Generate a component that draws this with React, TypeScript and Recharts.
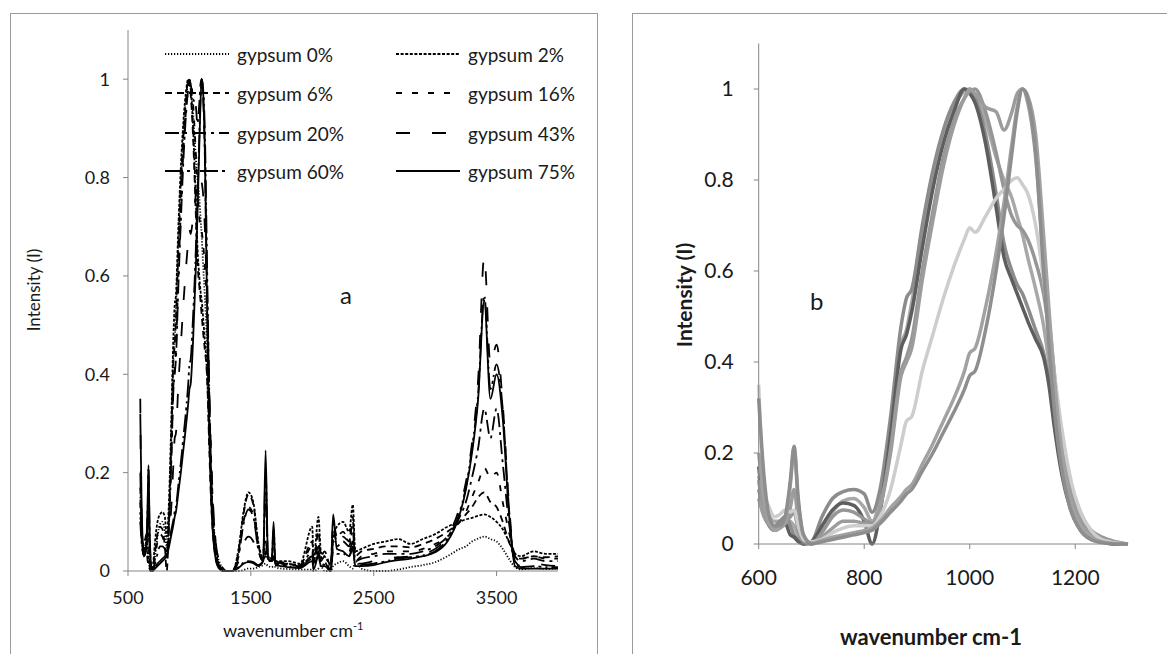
import { LineChart, Line, XAxis, YAxis, Legend } from 'recharts'

// wavenumber grid (cm-1), rows kept aligned with the series below
const wavenumbers = [
  600, 610, 620, 630, 640, 650, 660, 667, 675, 685, 700,
  720, 740, 760, 780, 800, 815, 830, 850, 870, 880, 890,
  910, 930, 950, 970, 990, 1000, 1010, 1030, 1050, 1065,
  1080, 1090, 1100, 1110, 1125, 1140, 1150, 1160, 1175, 1190,
  1210, 1230, 1250, 1275, 1300, 1350, 1400, 1440, 1480, 1520,
  1560, 1600, 1620, 1640, 1670, 1685, 1700, 1750, 1800, 1900,
  2000, 2010, 2050, 2070, 2100, 2150, 2170, 2200, 2250, 2300,
  2330, 2350, 2400, 2500, 2600, 2700, 2800, 2900, 3000, 3100,
  3200, 3250, 3300, 3350, 3400, 3450, 3500, 3550, 3600, 3650,
  3700, 3800, 3900, 4000,
]

const gypsum0 = [
  0.15, 0.09, 0.06, 0.05, 0.05, 0.055, 0.05, 0.04, 0.02, 0.005, 0.0,
  0.03, 0.07, 0.095, 0.1, 0.08, 0.05, 0.1, 0.25, 0.44, 0.47, 0.53,
  0.67, 0.79, 0.89, 0.96, 0.995, 1.0, 0.985, 0.93, 0.85, 0.8,
  0.76, 0.72, 0.68, 0.63, 0.56, 0.48, 0.4, 0.31, 0.2, 0.12,
  0.06, 0.03, 0.015, 0.005, 0.0, 0.0, 0.0, 0.002, 0.005, 0.005,
  0.008, 0.012, 0.015, 0.01, 0.008, 0.01, 0.008, 0.005, 0.004, 0.003,
  0.003, 0.0, 0.005, 0.01, 0.0, 0.0, 0.01, 0.015, 0.02, 0.01,
  0.005, 0.02, 0.005, 0.0, 0.0, 0.003, 0.008, 0.012, 0.018, 0.03,
  0.045, 0.05, 0.06, 0.066, 0.07, 0.065, 0.06, 0.045, 0.025, 0.008,
  0.003, 0.006, 0.004, 0.005,
]

const gypsum2 = [
  0.12, 0.07, 0.045, 0.04, 0.05, 0.06, 0.04, 0.02, 0.01, 0.0, 0.005,
  0.06, 0.1, 0.115, 0.12, 0.11, 0.07, 0.12, 0.28, 0.48, 0.54, 0.56,
  0.7, 0.82, 0.91, 0.97, 1.0, 0.995, 0.98, 0.9, 0.77, 0.66,
  0.6, 0.57, 0.55, 0.52, 0.47, 0.42, 0.36, 0.28, 0.18, 0.1,
  0.05, 0.02, 0.01, 0.0, 0.0, 0.0, 0.045, 0.12, 0.16, 0.14,
  0.06, 0.025, 0.035, 0.025, 0.025, 0.03, 0.02, 0.02, 0.02, 0.015,
  0.09, 0.02, 0.11, 0.04, 0.03, 0.015, 0.07, 0.09, 0.1, 0.08,
  0.135, 0.04, 0.045, 0.055, 0.06, 0.065, 0.055, 0.065, 0.075, 0.09,
  0.1, 0.105, 0.108, 0.112, 0.115, 0.11, 0.1, 0.085, 0.06, 0.035,
  0.03, 0.04, 0.035, 0.035,
]

const gypsum6 = [
  0.17, 0.08, 0.04, 0.03, 0.04, 0.045, 0.02, 0.015, 0.005, 0.0, 0.005,
  0.04, 0.075, 0.09, 0.085, 0.05, 0.0, 0.07, 0.24, 0.43, 0.46, 0.51,
  0.65, 0.78, 0.88, 0.95, 1.0, 0.99, 0.97, 0.88, 0.74, 0.63,
  0.58, 0.55, 0.52, 0.49, 0.45, 0.41, 0.35, 0.26, 0.15, 0.08,
  0.03, 0.01, 0.005, 0.0, 0.0, 0.0, 0.04, 0.115, 0.155, 0.135,
  0.055, 0.025, 0.03, 0.02, 0.02, 0.025, 0.018, 0.018, 0.015, 0.012,
  0.06, 0.015, 0.08, 0.03, 0.04, 0.01, 0.1, 0.07, 0.08, 0.06,
  0.1, 0.03, 0.04, 0.045, 0.05, 0.05, 0.048, 0.055, 0.065, 0.08,
  0.1, 0.115, 0.13, 0.15, 0.16, 0.14, 0.13, 0.1, 0.06, 0.03,
  0.025, 0.03, 0.028, 0.03,
]

const gypsum16 = [
  0.14, 0.07, 0.045, 0.035, 0.04, 0.05, 0.06, 0.07, 0.03, 0.005, 0.0,
  0.025, 0.06, 0.075, 0.07, 0.055, 0.045, 0.08, 0.21, 0.38, 0.41, 0.45,
  0.6, 0.73, 0.85, 0.93, 0.98, 0.995, 1.0, 0.95, 0.86, 0.78,
  0.72, 0.7, 0.69, 0.67, 0.62, 0.55, 0.47, 0.37, 0.24, 0.14,
  0.07, 0.03, 0.015, 0.005, 0.0, 0.0, 0.035, 0.1, 0.13, 0.115,
  0.045, 0.02, 0.04, 0.02, 0.02, 0.025, 0.015, 0.015, 0.015, 0.012,
  0.05, 0.02, 0.06, 0.02, 0.03, 0.0, 0.08, 0.06, 0.07, 0.06,
  0.11, 0.02, 0.03, 0.035, 0.04, 0.04, 0.04, 0.045, 0.055, 0.07,
  0.1, 0.12, 0.15, 0.18, 0.21, 0.19, 0.2, 0.14, 0.08, 0.035,
  0.025, 0.03, 0.025, 0.025,
]

const gypsum20 = [
  0.1, 0.06, 0.04, 0.03, 0.035, 0.045, 0.08, 0.12, 0.05, 0.01, 0.0,
  0.015, 0.035, 0.05, 0.05, 0.045, 0.04, 0.08, 0.2, 0.37, 0.4, 0.43,
  0.58, 0.71, 0.83, 0.92, 0.98, 1.0, 0.99, 0.96, 0.95, 0.91,
  0.95, 0.99, 1.0, 0.97, 0.85, 0.62, 0.5, 0.38, 0.22, 0.12,
  0.05, 0.02, 0.008, 0.002, 0.0, 0.0, 0.03, 0.095, 0.125, 0.11,
  0.045, 0.02, 0.06, 0.025, 0.02, 0.03, 0.015, 0.015, 0.012, 0.01,
  0.04, 0.01, 0.05, 0.03, 0.02, 0.0, 0.06, 0.05, 0.06, 0.05,
  0.08, 0.02, 0.025, 0.03, 0.035, 0.035, 0.035, 0.04, 0.05, 0.07,
  0.11, 0.14, 0.19, 0.25, 0.33, 0.27, 0.33, 0.22, 0.1, 0.03,
  0.02, 0.025, 0.02, 0.02,
]

const gypsum43 = [
  0.35, 0.12, 0.08, 0.06, 0.065, 0.075, 0.07, 0.075, 0.04, 0.01, 0.005,
  0.01, 0.025, 0.035, 0.04, 0.04, 0.04, 0.06, 0.12, 0.22, 0.27, 0.28,
  0.38, 0.46, 0.54, 0.61, 0.67, 0.695, 0.685, 0.72, 0.76, 0.78,
  0.8, 0.805, 0.79, 0.77, 0.7, 0.58, 0.48, 0.38, 0.25, 0.15,
  0.07, 0.03, 0.01, 0.003, 0.0, 0.0, 0.02, 0.055, 0.07, 0.06,
  0.03, 0.03, 0.14, 0.03, 0.025, 0.06, 0.02, 0.015, 0.012, 0.01,
  0.03, 0.005, 0.04, 0.02, 0.015, 0.0, 0.05, 0.04, 0.045, 0.04,
  0.06, 0.015, 0.015, 0.02, 0.025, 0.028, 0.03, 0.035, 0.045, 0.07,
  0.13, 0.18, 0.26, 0.39, 0.64, 0.42, 0.46, 0.34, 0.14, 0.02,
  0.01, 0.015, 0.012, 0.01,
]

const gypsum60 = [
  0.2, 0.1, 0.05, 0.03, 0.035, 0.05, 0.13, 0.21, 0.09, 0.02, 0.002,
  0.008, 0.015, 0.02, 0.025, 0.03, 0.035, 0.05, 0.08, 0.105, 0.12, 0.13,
  0.175, 0.22, 0.27, 0.32, 0.38, 0.42, 0.43, 0.52, 0.64, 0.75,
  0.88, 0.96, 1.0, 0.985, 0.9, 0.68, 0.52, 0.37, 0.2, 0.1,
  0.04, 0.015, 0.005, 0.001, 0.0, 0.0, 0.008, 0.017, 0.02, 0.018,
  0.012, 0.02, 0.2, 0.03, 0.025, 0.085, 0.015, 0.012, 0.01, 0.008,
  0.025, 0.005, 0.035, 0.015, 0.012, 0.0, 0.04, 0.035, 0.035, 0.03,
  0.05, 0.01, 0.012, 0.015, 0.02, 0.025, 0.028, 0.032, 0.04, 0.065,
  0.12, 0.17, 0.25, 0.36, 0.56, 0.37, 0.42, 0.33, 0.13, 0.015,
  0.008, 0.01, 0.008, 0.008,
]

const gypsum75 = [
  0.32, 0.15, 0.06, 0.04, 0.04, 0.06, 0.14, 0.215, 0.1, 0.02, 0.0,
  0.005, 0.01, 0.015, 0.02, 0.025, 0.03, 0.045, 0.07, 0.095, 0.11, 0.12,
  0.16, 0.2, 0.245, 0.29, 0.34, 0.37, 0.38, 0.47, 0.6, 0.72,
  0.86, 0.95, 1.0, 0.98, 0.86, 0.6, 0.44, 0.3, 0.16, 0.08,
  0.03, 0.01, 0.003, 0.0, 0.0, 0.0, 0.006, 0.015, 0.018, 0.016,
  0.01, 0.02, 0.245, 0.025, 0.02, 0.1, 0.012, 0.01, 0.008, 0.006,
  0.02, 0.003, 0.03, 0.01, 0.01, 0.0, 0.115, 0.045, 0.04, 0.03,
  0.045, 0.01, 0.01, 0.012, 0.018, 0.022, 0.025, 0.03, 0.038, 0.06,
  0.115, 0.165, 0.24, 0.35, 0.55, 0.35, 0.4, 0.31, 0.12, 0.01,
  0.005, 0.005, 0.005, 0.005,
]

const seriesNames = ['gypsum 0%', 'gypsum 2%', 'gypsum 6%', 'gypsum 16%', 'gypsum 20%', 'gypsum 43%', 'gypsum 60%', 'gypsum 75%']
const seriesValues = [gypsum0, gypsum2, gypsum6, gypsum16, gypsum20, gypsum43, gypsum60, gypsum75]

const ticksA = [500, 1500, 2500, 3500]
const ticksB = [600, 800, 1000, 1200]
const ticksY = [0, 0.2, 0.4, 0.6, 0.8, 1]

// panel a line styles (black, dash patterns) and panel b greys
const dashes = ['1.2 1.8', '3 1.6', '7 5', '6 10', '14 5 3 5', '14 22', '18 4 3 4 2 4', '0']
const greys = ['#a8a8a8', '#8c8c8c', '#5e5e5e', '#969696', '#9c9c9c', '#cdcdcd', '#a2a2a2', '#8e8e8e']

const spectra = wavenumbers.map((wn, i) => {
  const row: Record<string, number> = { wn }
  seriesValues.forEach((vals, s) => { row['s' + s] = vals[i] })
  return row
})
const spectraB = spectra.filter(r => r.wn <= 1300)

const FONT = 'Lato, "Open Sans", sans-serif'
const axisGrey = '#868686'

function GypsumLegend() {
  // two columns, four rows
  const rows = [19, 58, 98, 136]
  return (
    <svg width={440} height={160} style={{ overflow: 'visible' }}>
      {seriesNames.map((name, i) => {
        const col = i % 2
        const y = rows[Math.floor(i / 2)]
        const x0 = col === 0 ? 15 : 246
        return (
          <g key={name}>
            <line x1={x0} x2={x0 + 64} y1={y} y2={y} stroke="#000" strokeWidth={1.8}
              strokeDasharray={dashes[i] === '0' ? undefined : dashes[i]} />
            <text x={x0 + 72} y={y} dominantBaseline="central" fontSize={19} fontFamily={FONT} fill="#1a1a1a">{name}</text>
          </g>
        )
      })}
    </svg>
  )
}

export default function App() {
  const tickA = { fontSize: 18, fill: '#1a1a1a', fontFamily: FONT }
  const tickB = { fontSize: 21, fill: '#1a1a1a', fontFamily: FONT }
  return (
    <div style={{ position: 'absolute', left: 0, top: 0, width: 1167, height: 654, overflow: 'hidden', background: '#fff', fontFamily: FONT, color: '#1a1a1a' }}>
      <div style={{ position: 'absolute', left: 10, top: 13, width: 586, height: 700, border: '1px solid #9a9a9a' }} />
      <div style={{ position: 'absolute', left: 632, top: 13, width: 600, height: 700, border: '1px solid #9a9a9a' }} />

      {/* panel a */}
      <div style={{ position: 'absolute', left: 0, top: 0 }}>
        <LineChart width={597} height={654} data={spectra} margin={{ top: 30, right: 39, bottom: 53, left: 68 }}>
          <XAxis type="number" dataKey="wn" domain={[500, 4000]} ticks={ticksA} height={30}
            tick={tickA} tickSize={5} tickMargin={15} stroke={axisGrey} />
          <YAxis type="number" domain={[0, 1.1]} ticks={ticksY} width={60}
            tick={tickA} tickSize={5} tickMargin={13} stroke={axisGrey} />
          <Legend layout="horizontal" verticalAlign="middle" align="center"
            wrapperStyle={{ top: 35, left: 150, width: 440, height: 160 }}
            content={() => <GypsumLegend />} />
          {seriesNames.map((name, i) => (
            <Line key={name} name={name} dataKey={'s' + i} type="monotone" stroke="#000" strokeWidth={1.8}
              strokeDasharray={dashes[i] === '0' ? undefined : dashes[i]} dot={false} isAnimationActive={false} />
          ))}
        </LineChart>
      </div>
      <div style={{ position: 'absolute', left: 33, top: 290, transform: 'translate(-50%, -50%) rotate(-90deg)', fontSize: 17, whiteSpace: 'nowrap' }}>Intensity (I)</div>
      <div style={{ position: 'absolute', left: 223, top: 619, fontSize: 18, whiteSpace: 'nowrap' }}>wavenumber cm<sup style={{ fontSize: 11 }}>-1</sup></div>
      <div style={{ position: 'absolute', left: 340, top: 280, fontSize: 24 }}>a</div>

      {/* panel b */}
      <div style={{ position: 'absolute', left: 600, top: 0 }}>
        <LineChart width={567} height={654} data={spectraB} margin={{ top: 43.5, right: 39, bottom: 80, left: 98.7 }}>
          <XAxis type="number" dataKey="wn" domain={[600, 1300]} ticks={ticksB} height={30}
            tick={tickB} tickSize={5} tickMargin={21} stroke={axisGrey} />
          <YAxis type="number" domain={[0, 1.1]} ticks={ticksY} width={60}
            tick={tickB} tickSize={5} tickMargin={20} stroke={axisGrey} />
          {seriesNames.map((name, i) => (
            <Line key={name} name={name} dataKey={'s' + i} type="monotone" stroke={greys[i]} strokeWidth={3.5}
              dot={false} isAnimationActive={false} />
          ))}
        </LineChart>
      </div>
      <div style={{ position: 'absolute', left: 683, top: 295, transform: 'translate(-50%, -50%) rotate(-90deg)', fontSize: 21, fontWeight: 700, whiteSpace: 'nowrap' }}>Intensity (I)</div>
      <div style={{ position: 'absolute', left: 931, top: 636, transform: 'translate(-50%, -50%)', fontSize: 22, fontWeight: 700, whiteSpace: 'nowrap' }}>wavenumber cm-1</div>
      <div style={{ position: 'absolute', left: 810, top: 286, fontSize: 24 }}>b</div>
    </div>
  )
}
